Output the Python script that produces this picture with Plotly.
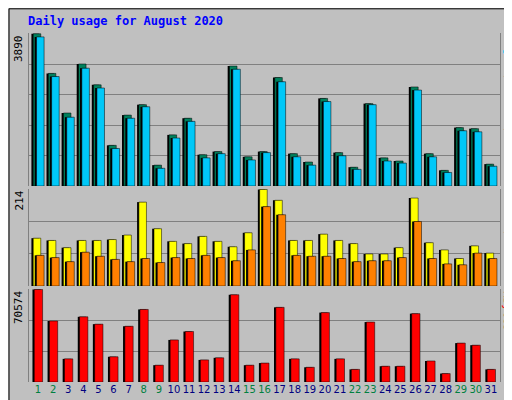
import plotly.graph_objects as go

days = list(range(1, 32))
hits = [3890,2877,1865,3117,2584,1039,1812,2078,533,1306,1732,799,879,3064,746,879,2771,826,613,2238,853,480,2105,719,639,2531,826,400,1492,1465,559]
files = [3810,2797,1758,3011,2504,959,1732,2025,453,1226,1652,719,826,2984,666,853,2664,746,533,2158,773,426,2078,639,586,2451,746,346,1412,1385,506]
visits = [106,101,85,101,101,103,113,186,127,99,94,110,99,87,118,214,190,101,101,115,101,94,71,71,85,195,96,80,61,89,73]
sites = [68,63,54,75,66,59,54,61,52,63,61,68,63,56,80,176,158,68,66,66,61,54,56,56,63,143,61,49,47,73,61]
kbytes = [70574,46520,17640,49730,44110,19250,42510,55340,12830,32080,38500,16840,18450,66560,12830,14440,56940,17640,11230,52930,17640,9620,45710,12030,12030,52130,16040,6420,29670,28070,9620]
weekend = {1,2,8,9,15,16,22,23,29,30}

W, H = 512, 400
x0, x1 = 21/W, 492/W
doms = [(1-178/H, 1-25/H), (1-278/H, 1-181/H), (1-374/H, 1-281/H)]

fig = go.Figure()
def bars(vals, color, offset, width, ax):
    fig.add_bar(x=days, y=vals, marker=dict(color='#000000', line=dict(width=0)),
                offset=offset-0.12, width=width, xaxis='x', yaxis=ax, showlegend=False, hoverinfo='skip')
    fig.add_bar(x=days, y=vals, marker=dict(color=color, line=dict(color='#000000', width=0.5)),
                offset=offset, width=width, xaxis='x', yaxis=ax, showlegend=False)

bars(hits, '#00805c', -0.32, 0.5, 'y')
bars(files, '#00c8f8', -0.1, 0.5, 'y')
bars(visits, '#ffff00', -0.32, 0.5, 'y2')
bars(sites, '#ff8000', -0.1, 0.5, 'y2')
bars(kbytes, '#ff0000', -0.25, 0.55, 'y3')

def yax(dom, mx, n):
    return dict(domain=list(dom), range=[0, mx*1.005], showticklabels=False, ticks='',
                tickvals=[mx*i/n for i in range(1, n+1)], gridcolor='#808080', gridwidth=1,
                zeroline=False, showline=True, linecolor='#808080', mirror=True, anchor='x')

tickcolors = ['#008040' if d in weekend else '#000080' for d in days]
fig.update_layout(
    width=W, height=H, margin=dict(l=0, r=0, t=0, b=0),
    paper_bgcolor='#c0c0c0', plot_bgcolor='#c0c0c0', barmode='overlay',
    xaxis=dict(domain=[x0, x1], range=[0.4, 31.6], tickvals=days, tickangle=0,
               ticktext=[f'<span style="color:{c}">{d}</span>' for d, c in zip(days, tickcolors)],
               tickfont=dict(family='DejaVu Sans', size=10), ticks='', showgrid=False, anchor='y3'),
    yaxis=yax(doms[0], 3890, 5),
    yaxis2=yax(doms[1], 214, 3),
    yaxis3=yax(doms[2], 70574, 3),
    font=dict(family='DejaVu Sans Mono', size=11),
)

ann = []
ann.append(dict(text='<b>Daily usage for August 2020</b>', x=18/W, y=1-4/H, xref='paper', yref='paper',
                xanchor='left', yanchor='top', showarrow=False, font=dict(color='#0000ff', size=12, family='DejaVu Sans Mono')))
for dom, lab in zip(doms, ['3890', '214', '70574']):
    ann.append(dict(text=lab, x=x0-2/W, y=dom[1], xref='paper', yref='paper', xanchor='right', yanchor='top',
                    textangle=-90, showarrow=False, font=dict(size=11, color='#000000')))
rl = ['<span style="color:#00c8f8">Pages</span> / <span style="color:#0080ff">Files</span> / <span style="color:#00805c">Hits</span>',
      '<span style="color:#ff8000">Sites</span> / <span style="color:#e8e800">Visits</span>',
      '<span style="color:#ff0000">KBytes</span>']
for dom, t in zip(doms, rl):
    ann.append(dict(text=t, x=500/W, y=dom[1], xref='paper', yref='paper', xanchor='center', yanchor='top',
                    textangle=90, showarrow=False, font=dict(size=11)))
fig.update_layout(annotations=ann)
fig.add_shape(type='rect', xref='paper', yref='paper', x0=0.002, y0=0.002, x1=0.998, y1=0.998,
              line=dict(color='#000000', width=1))
fig.write_html('out.html')
